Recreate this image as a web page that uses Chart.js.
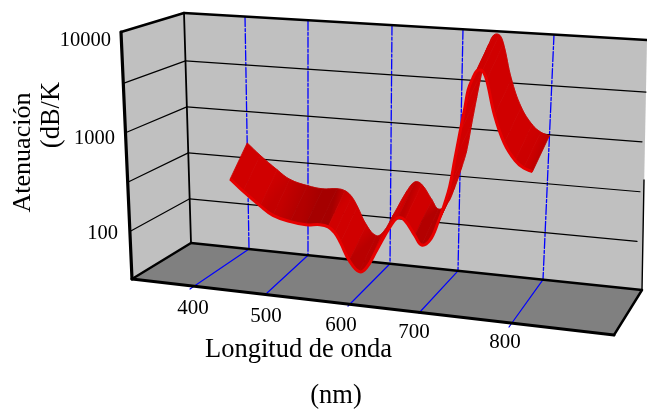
<!DOCTYPE html>
<html>
<head>
<meta charset="utf-8">
<style>
  html, body { margin: 0; padding: 0; background: #fff; }
  canvas { display: block; }
</style>
<script src="https://cdn.jsdelivr.net/npm/chart.js@4"></script>
</head>
<body>
<canvas id="attenuationChart" width="647" height="409"></canvas>
<script>
// values
const wavelengths = [400, 421, 449, 470, 499, 518, 535, 545, 553, 560, 571, 583, 592, 605, 624, 635, 645, 660,
    670, 682, 693, 702, 707, 712, 717, 722, 725, 729, 734, 740, 745, 755, 767, 780, 790, 800];
const attenuation = [458, 347, 251, 204, 182, 174, 180, 174, 153, 122, 80, 63, 71, 111, 200, 251, 240, 170,
    138, 158, 243, 398, 589, 1122, 2138, 3981, 6026, 7673, 9550, 9661, 7852, 3467, 1820, 1230, 1047, 977];
const wavelengthTicks = [400, 500, 600, 700, 800];
const valueGrid = [100, 316, 1000, 3162];
const valueLabels = ["100", "1000", "10000"];

// the 3D box as Excel drew it, in page units
const valueMin = 1.52, valueSpan = 2.5;
const backTopLeft = [184, 13], backTopRight = [647, 40];
const backBottomLeft = [191, 243], backBottomRight = [642, 290];
const frontTopLeft = [121, 32], frontBottomLeft = [132, 279], frontBottomRight = [614, 335];
const tickTopX = [245, 308, 392, 463, 554];
const tickFloorX = [249, 308, 390, 458, 543];
const tickFrontX = [190, 267, 348, 419, 509];
const tickFrontY = [289, 293, 306, 313, 327];
const gridEndX = [637, 640, 642, 646];
const ribbonDepth = [-17, 36];

function lineY(a, b, x) {
    return a[1] + (b[1] - a[1]) * (x - a[0]) / (b[0] - a[0]);
}
function valueT(v) {
    return (Math.log10(v) - valueMin) / valueSpan;
}
function tickX(list, lambda) {
    let i = 0;
    while (i < wavelengthTicks.length - 2 && lambda > wavelengthTicks[i + 1]) i++;
    const f = (lambda - wavelengthTicks[i]) / (wavelengthTicks[i + 1] - wavelengthTicks[i]);
    return list[i] + (list[i + 1] - list[i]) * f;
}
function wallY(x, t) {
    const yTop = lineY(backTopLeft, backTopRight, x);
    const yBottom = lineY(backBottomLeft, backBottomRight, x);
    return yBottom + (yTop - yBottom) * t;
}
function wallPoint(lambda, v) {
    const t = valueT(v);
    const xTop = tickX(tickTopX, lambda), xFloor = tickX(tickFloorX, lambda);
    const x = xFloor + (xTop - xFloor) * t;
    return { x: x, y: wallY(x, t) };
}
function leftBack(v) {
    const t = valueT(v);
    return { x: backBottomLeft[0] + (backTopLeft[0] - backBottomLeft[0]) * t, y: backBottomLeft[1] + (backTopLeft[1] - backBottomLeft[1]) * t };
}
function leftFront(v) {
    const t = valueT(v);
    return { x: frontBottomLeft[0] + (frontTopLeft[0] - frontBottomLeft[0]) * t, y: frontBottomLeft[1] + (frontTopLeft[1] - frontBottomLeft[1]) * t };
}
function pt(p) {
    return { x: p[0], y: p[1] };
}
function seg(data, color, width, dash) {
    return { data: data, borderColor: color, borderWidth: width, borderDash: dash || [], tension: 0, borderCapStyle: "round" };
}

const backEdge = wavelengths.map(function (w, i) { return wallPoint(w, attenuation[i]); });
const frontEdge = backEdge.map(function (p) { return { x: p.x + ribbonDepth[0], y: p.y + ribbonDepth[1] }; });

const datasets = [
    { label: "Atenuación", data: frontEdge, borderColor: "#e60000", borderWidth: 3, tension: 0.4 },
    { label: "Atenuación (fondo)", data: backEdge, borderColor: "#cc0000", borderWidth: 0.5, tension: 0.4 }
];

// box outline
datasets.push(seg([pt(frontTopLeft), pt(frontBottomLeft)], "#000", 3.2));
datasets.push(seg([pt(frontBottomLeft), pt(frontBottomRight)], "#000", 3));
datasets.push(seg([pt(frontTopLeft), pt(backTopLeft)], "#000", 2.4));
datasets.push(seg([pt(backTopLeft), pt(backTopRight)], "#000", 2.4));
datasets.push(seg([pt(backTopLeft), pt(backBottomLeft)], "#000", 1.8));
datasets.push(seg([pt(backBottomLeft), pt(backBottomRight)], "#000", 2.4));
datasets.push(seg([pt(backBottomLeft), pt(frontBottomLeft)], "#000", 2.4));
datasets.push(seg([pt(backBottomRight), pt(frontBottomRight)], "#000", 2.4));
datasets.push(seg([{ x: 644, y: 180 }, pt(backBottomRight)], "#000", 1.4));

// value gridlines, left wall and back wall
valueGrid.forEach(function (v, i) {
    const back = leftBack(v);
    datasets.push(seg([leftFront(v), back], "#000", 1.2));
    datasets.push(seg([back, { x: gridEndX[i], y: wallY(gridEndX[i], valueT(v)) }], "#000", 1.2));
});

// wavelength ticks, up the wall and across the floor
wavelengthTicks.forEach(function (w, i) {
    const top = { x: tickTopX[i], y: lineY(backTopLeft, backTopRight, tickTopX[i]) };
    const floor = { x: tickFloorX[i], y: lineY(backBottomLeft, backBottomRight, tickFloorX[i]) };
    const front = { x: tickFrontX[i], y: tickFrontY[i] };
    datasets.push(seg([top, floor], "#0000ff", 1.3, [10, 2, 3, 2]));
    datasets.push(seg([floor, front], "#0000ff", 1.2));
});

function ribbonShade(a, b) {
    const slope = Math.abs(b.y - a.y) / Math.max(Math.abs(b.x - a.x), 0.5);
    const s = Math.max(0, Math.min((slope - 0.1) / 0.6, 1));
    return Math.round(165 + 43 * s);
}

const boxPlugin = {
    id: "box3d",
    beforeDatasetsDraw: function (chart) {
        const ctx = chart.ctx, sx = chart.scales.x, sy = chart.scales.y;
        function poly(points, color) {
            ctx.beginPath();
            points.forEach(function (p, i) {
                const px = sx.getPixelForValue(p[0]), py = sy.getPixelForValue(p[1]);
                if (i === 0) ctx.moveTo(px, py); else ctx.lineTo(px, py);
            });
            ctx.closePath();
            ctx.fillStyle = color;
            ctx.fill();
        }
        poly([backTopLeft, backTopRight, backBottomRight, backBottomLeft], "#c0c0c0");
        poly([frontTopLeft, backTopLeft, backBottomLeft, frontBottomLeft], "#c0c0c0");
        poly([backBottomLeft, backBottomRight, frontBottomRight, frontBottomLeft], "#808080");
    },
    beforeDatasetDraw: function (chart, args) {
        if (args.index !== 1) return;
        // fill the ribbon between its two edges, left to right
        const ctx = chart.ctx;
        const front = chart.getDatasetMeta(0), back = chart.getDatasetMeta(1);
        front.dataset.updateControlPoints(chart.chartArea, "x");
        back.dataset.updateControlPoints(chart.chartArea, "x");
        const f = front.data, b = back.data;
        const shades = b.map(function (p, i) {
            const from = b[Math.max(i - 1, 0)], to = b[Math.min(i + 1, b.length - 1)];
            return ribbonShade(from, to);
        });
        for (let i = 0; i < b.length - 1; i++) {
            const grad = ctx.createLinearGradient(b[i].x, b[i].y, b[i + 1].x, b[i + 1].y);
            grad.addColorStop(0, "rgb(" + shades[i] + ",0,0)");
            grad.addColorStop(1, "rgb(" + shades[i + 1] + ",0,0)");
            ctx.beginPath();
            ctx.moveTo(b[i].x, b[i].y);
            ctx.bezierCurveTo(b[i].cp2x, b[i].cp2y, b[i + 1].cp1x, b[i + 1].cp1y, b[i + 1].x, b[i + 1].y);
            ctx.lineTo(f[i + 1].x, f[i + 1].y);
            ctx.bezierCurveTo(f[i + 1].cp1x, f[i + 1].cp1y, f[i].cp2x, f[i].cp2y, f[i].x, f[i].y);
            ctx.closePath();
            ctx.fillStyle = grad;
            ctx.strokeStyle = grad;
            ctx.lineWidth = 0.8;
            ctx.fill();
            ctx.stroke();
        }
    },
    afterDraw: function (chart) {
        const ctx = chart.ctx, sx = chart.scales.x, sy = chart.scales.y;
        ctx.save();
        ctx.fillStyle = "#000";
        ctx.textBaseline = "middle";
        function label(text, x, y, size, align, angle) {
            ctx.save();
            ctx.translate(sx.getPixelForValue(x), sy.getPixelForValue(y));
            if (angle) ctx.rotate(angle);
            ctx.font = size + 'px "Liberation Serif"';
            ctx.textAlign = align;
            ctx.fillText(text, 0, 0);
            ctx.restore();
        }
        const valueLabelPos = [[118, 234], [115, 139], [111, 41]];
        valueLabels.forEach(function (t, i) { label(t, valueLabelPos[i][0], valueLabelPos[i][1], 20.5, "right"); });
        const tickLabelPos = [[193, 308], [266, 316], [341, 325], [414, 332], [505, 342]];
        wavelengthTicks.forEach(function (w, i) { label(String(w), tickLabelPos[i][0], tickLabelPos[i][1], 21, "center"); });
        label("Longitud de onda", 298.5, 350, 26.5, "center");
        label("(nm)", 336, 396, 26.5, "center");
        label("Atenuación", 23, 152.5, 26, "center", -Math.PI / 2);
        label("(dB/K", 52, 115, 26.5, "center", -Math.PI / 2);
        ctx.restore();
    }
};

new Chart(document.getElementById("attenuationChart"), {
    type: "line",
    data: { datasets: datasets },
    options: {
        responsive: false,
        animation: false,
        parsing: false,
        normalized: false,
        layout: { padding: 0 },
        elements: { point: { radius: 0 } },
        plugins: { legend: { display: false }, tooltip: { enabled: false }, title: { display: false } },
        scales: {
            x: { type: "linear", display: false, min: 0, max: 647 },
            y: { type: "linear", display: false, min: 0, max: 409, reverse: true }
        }
    },
    plugins: [boxPlugin]
});
</script>
</body>
</html>
